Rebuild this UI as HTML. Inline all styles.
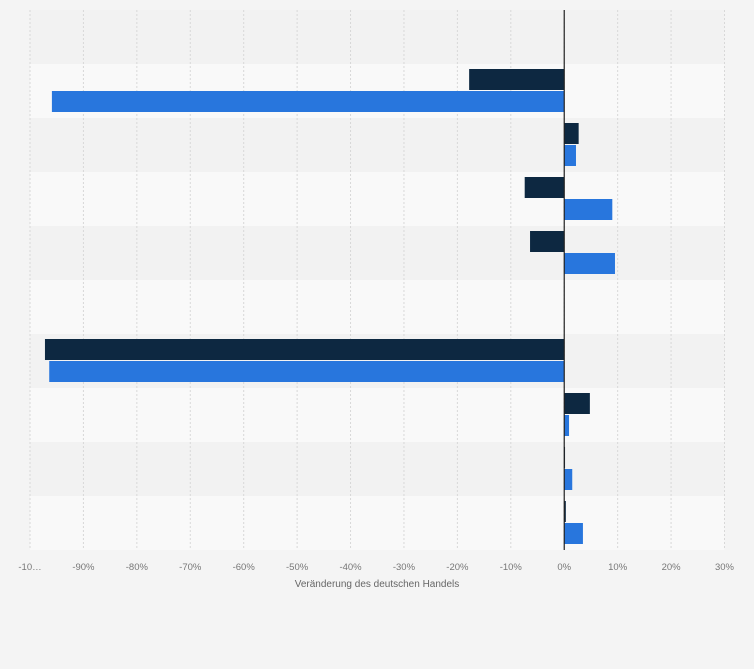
<!DOCTYPE html>
<html><head><meta charset="utf-8"><style>
html,body{margin:0;background:#f4f4f4;font-family:"Liberation Sans",sans-serif;overflow:hidden;}
svg{display:block;}
svg text{font-family:"Liberation Sans",sans-serif;}
</style></head><body>
<svg width="754" height="669" id="c">
<rect width="754" height="669" fill="#f4f4f4"/>
<g id="bands"></g><g id="grid"></g><g id="bars"></g><g id="ticks"></g>
<text x="377" y="587" text-anchor="middle" font-size="10" fill="#666">Veränderung des deutschen Handels</text>
</svg>
<script>
const categories=["r0","r1","r2","r3","r4","r5","r6","r7","r8","r9"];
const seriesDark=[null,-17.8,2.7,-7.4,-6.4,null,-97.2,4.8,0,0.3];
const seriesBlue=[null,-95.9,2.2,9.0,9.5,null,-96.4,0.9,1.5,3.5];
const tickValues=[-100,-90,-80,-70,-60,-50,-40,-30,-20,-10,0,10,20,30];
const tickLabels=["-10…","-90%","-80%","-70%","-60%","-50%","-40%","-30%","-20%","-10%","0%","10%","20%","30%"];
const NS="http://www.w3.org/2000/svg";
const x0=30,x1=724.5,vmin=-100,vmax=30,plotTop=10,band=54;
const xs=v=>x0+(v-vmin)/(vmax-vmin)*(x1-x0);
const ys=i=>plotTop+i*band;
function mk(t,a,p){const e=document.createElementNS(NS,t);for(const k in a)e.setAttribute(k,a[k]);p.appendChild(e);return e;}
const B=document.getElementById('bands'),G=document.getElementById('grid'),R=document.getElementById('bars'),T=document.getElementById('ticks');
categories.forEach((c,i)=>{
 const r=mk('rect',{x:x0,y:ys(i),width:x1-x0,height:band,fill:i%2?'#f9f9f9':'#f2f2f2'},B);
 
 
});
tickValues.forEach((v,i)=>{
 const l=mk('line',{x1:xs(v),x2:xs(v),y1:plotTop,y2:ys(categories.length),stroke:'#d8d8d8','stroke-dasharray':'2,2'},G);
 
 
 const t=mk('text',{x:xs(v),y:570,'text-anchor':'middle','font-size':'9.5',fill:'#777'},T);
 t.textContent=tickLabels[i];
 
 
});
function bar(v,i,off,col,nm){
 if(v===null)return;
 const a=xs(0),b=xs(v);
 const r=mk('rect',{x:Math.min(a,b),y:ys(i)+off,width:Math.max(Math.abs(b-a),0.8),height:21,fill:col},R);
 
 
}
categories.forEach((c,i)=>{bar(seriesDark[i],i,5,'#0d2841','bar-dark');bar(seriesBlue[i],i,27,'#2876dd','bar-blue');});
const z=mk('line',{x1:xs(0),x2:xs(0),y1:plotTop,y2:ys(categories.length),stroke:'#222','stroke-width':1.2},R);


</script>
</body></html>
